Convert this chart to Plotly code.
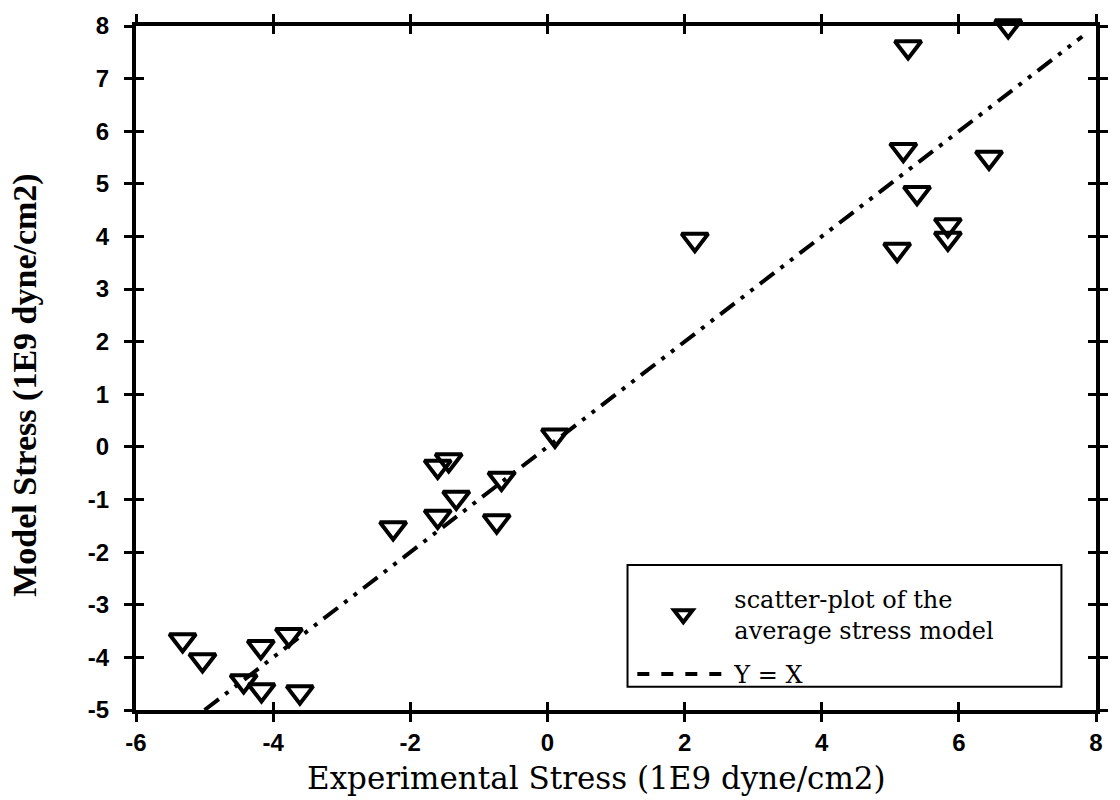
import plotly.graph_objects as go

# Experimental vs. model stress (units of 1E9 dyne/cm2)
experimental = [-5.32, -5.03, -4.18, -3.77, -4.43, -4.17, -3.61,
                -2.25, -1.60, -1.60, -1.44, -1.33, -0.74, -0.67, 0.11,
                2.15, 5.26, 6.72, 5.19, 6.44, 5.39, 5.84, 5.84, 5.10]
model = [-3.67, -4.05, -3.80, -3.57, -4.45, -4.62, -4.66,
         -1.54, -1.32, -0.37, -0.25, -0.96, -1.41, -0.60, 0.22,
         3.94, 7.60, 8.00, 5.65, 5.50, 4.83, 4.22, 3.96, 3.75]

# Reference line Y = X
ref_x = [-5.0, 7.8]
ref_y = [-5.0, 7.8]

x_tickvals = [-6, -4, -2, 0, 2, 4, 6, 8]
x_ticktext = ["-6", "-4", "-2", "0", "2", "4", "6", "8"]
y_tickvals = [-5, -4, -3, -2, -1, 0, 1, 2, 3, 4, 5, 6, 7, 8]
y_ticktext = ["-5", "-4", "-3", "-2", "-1", "0", "1", "2", "3", "4", "5", "6", "7", "8"]

SERIF = "DejaVu Serif"
tick_font = dict(family="Liberation Sans", size=24, color="black", weight="bold")

fig = go.Figure()

fig.add_trace(go.Scatter(
    x=experimental, y=model, mode="markers",
    name="scatter-plot of the<br>average stress model",
    legendgroup="pts",
    marker=dict(symbol="triangle-down-open", size=23, color="black",
                line=dict(width=4, color="black")),
    cliponaxis=False,
))

# the diagonal itself, drawn dash-dot-dot
fig.add_trace(go.Scatter(
    x=ref_x, y=ref_y, mode="lines", showlegend=False,
    line=dict(color="black", width=4, dash="18px,8px,4px,8px,4px,8px"),
))

# legend entry for the diagonal (plain dashes), on the overlay axes
fig.add_trace(go.Scatter(
    x=[None], y=[None], mode="lines", name="Y = X",
    legendgroup="diag",
    line=dict(color="black", width=4, dash="dash"),
    xaxis="x2", yaxis="y2",
))

common = dict(showline=True, linewidth=4, linecolor="black", mirror="ticks",
              ticklen=8, tickwidth=3, tickcolor="black",
              showgrid=False, zeroline=False)

fig.update_layout(
    width=1120, height=800,
    margin=dict(l=136, r=13, t=25, b=90),
    paper_bgcolor="white", plot_bgcolor="white",
    showlegend=True,
    xaxis=dict(range=[-6, 8], tickvals=x_tickvals, ticktext=x_ticktext,
               ticks="outside", tickfont=tick_font, ticklabelstandoff=0,
               **common),
    yaxis=dict(range=[-5, 8], tickvals=y_tickvals, ticktext=y_ticktext,
               ticks="outside", tickfont=tick_font, ticklabelstandoff=10,
               **common),
    xaxis2=dict(range=[-6, 8], tickvals=x_tickvals, overlaying="x",
                anchor="y2", ticks="inside", showticklabels=False, **common),
    yaxis2=dict(range=[-5, 8], tickvals=y_tickvals, overlaying="y",
                anchor="x2", ticks="inside", showticklabels=False, **common),
    legend=dict(x=0.517, y=0.195, xanchor="left", yanchor="top",
                bgcolor="rgba(0,0,0,0)", borderwidth=0,
                font=dict(family=SERIF, size=24, color="black"),
                tracegroupgap=10, itemwidth=92),
    shapes=[
        # legend frame
        dict(type="rect", xref="paper", yref="paper",
             x0=0.512, x1=0.964, y0=0.034, y1=0.212,
             line=dict(color="black", width=2), fillcolor="white", layer="above"),
    ],
    annotations=[
        dict(text="Experimental Stress (1E9 dyne/cm2)", xref="paper", yref="paper",
             x=0.480, y=-0.099, xanchor="center", yanchor="middle", showarrow=False,
             font=dict(family=SERIF, size=31, color="black")),
        dict(text="<b>Model Stress (1E9 dyne/cm2)</b>", xref="paper", yref="paper",
             x=-0.116, y=0.475, xanchor="center", yanchor="middle", showarrow=False,
             textangle=-90,
             font=dict(family="Liberation Serif", size=34, color="black")),
    ],
)

fig.write_html("out.html")
